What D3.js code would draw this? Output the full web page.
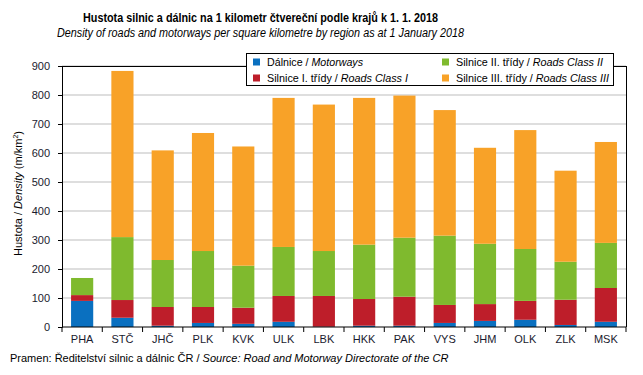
<!DOCTYPE html>
<html>
<head>
<meta charset="utf-8">
<script src="https://cdn.jsdelivr.net/npm/d3@7"></script>
<style>
  body { margin: 0; background: #fff; }
  svg { display: block; font-family: "Liberation Sans", Arial, sans-serif; }
</style>
</head>
<body>
<svg id="chart" width="643" height="375"></svg>
<script>
// Hustota silnic a dálnic podle krajů k 1. 1. 2018
const regions = ["PHA", "STČ", "JHČ", "PLK", "KVK", "ULK", "LBK", "HKK", "PAK", "VYS", "JHM", "OLK", "ZLK", "MSK"];

const motorways   = [90, 32, 4.5, 14, 11, 18, 1, 4.5, 4.5, 14, 21, 25, 7, 18];
const roadsClass1 = [20, 61, 64.5, 55, 55.5, 89, 106, 92, 100, 62, 58, 65, 87, 116.5];
const roadsClass2 = [59, 217, 162, 193, 145, 169, 155, 187.5, 203.5, 239, 208, 179, 131, 155.5];
const roadsClass3 = [0, 573, 378, 407, 411, 514, 505, 506, 490, 433, 331, 410, 314, 348];

const yTicks = [0, 100, 200, 300, 400, 500, 600, 700, 800, 900];

const series = [
  { key: "m",  cz: "Dálnice", en: "Motorways",        values: motorways,   color: "#0a70c0" },
  { key: "c1", cz: "Silnice I. třídy", en: "Roads Class I",   values: roadsClass1, color: "#be1e2a" },
  { key: "c2", cz: "Silnice II. třídy", en: "Roads Class II",  values: roadsClass2, color: "#7fba2e" },
  { key: "c3", cz: "Silnice III.  třídy", en: "Roads Class III", values: roadsClass3, color: "#f8a228" }
];

const width = 643, height = 375;
const margin = { top: 66, right: 17, bottom: 48, left: 62 };
const innerWidth  = width  - margin.left - margin.right;
const innerHeight = height - margin.top  - margin.bottom;

const svg = d3.select("#chart");

const g = svg.append("g")
  .attr("transform", `translate(${margin.left},${margin.top})`);

const x = d3.scaleBand()
  .domain(regions)
  .range([0, innerWidth])
  .paddingInner(0.45)
  .paddingOuter(0.225);

const y = d3.scaleLinear()
  .domain([0, 900])
  .range([innerHeight, 0]);

// mřížka
g.append("g")
  .selectAll("line")
  .data(yTicks.slice(1))
  .join("line")
  .attr("x1", 0).attr("x2", innerWidth)
  .attr("y1", d => y(d)).attr("y2", d => y(d))
  .attr("stroke", "#bdbdbd")
  .attr("stroke-width", 1);

// stack
const table = regions.map((r, i) => {
  const row = { region: r };
  series.forEach(s => row[s.key] = s.values[i]);
  return row;
});
const stacked = d3.stack().keys(series.map(s => s.key))(table);

g.append("g")
  .selectAll("g")
  .data(stacked)
  .join("g")
  .attr("fill", (d, i) => series[i].color)
  .selectAll("rect")
  .data(d => d)
  .join("rect")
  .attr("x", d => x(d.data.region))
  .attr("width", x.bandwidth())
  .attr("y", d => y(d[1]))
  .attr("height", d => y(d[0]) - y(d[1]));

// rámeček
g.append("path")
  .attr("d", `M0,${innerHeight}V0H${innerWidth}V${innerHeight}`)
  .attr("fill", "none")
  .attr("stroke", "#000")
  .attr("stroke-width", 1)
  .attr("shape-rendering", "crispEdges");

// osy
const yAxis = g.append("g")
  .call(d3.axisLeft(y).tickValues(yTicks).tickSize(4).tickPadding(8));
yAxis.select(".domain").attr("stroke", "#000");
yAxis.selectAll("text").attr("font-size", 11).attr("fill", "#1a1a2e")
  .attr("font-family", "Liberation Sans, Arial, sans-serif");

const step = x.step();
const x0 = x(regions[0]) - step * x.paddingInner() / 2;
const xAxis = g.append("g")
  .attr("transform", `translate(0,${innerHeight})`);
xAxis.append("line")
  .attr("x1", 0).attr("x2", innerWidth)
  .attr("stroke", "#000");
xAxis.selectAll(".tk")
  .data(d3.range(regions.length + 1))
  .join("line")
  .attr("class", "tk")
  .attr("x1", i => x0 + i * step)
  .attr("x2", i => x0 + i * step)
  .attr("y1", 0).attr("y2", 5)
  .attr("stroke", "#000");
xAxis.selectAll(".lbl")
  .data(regions)
  .join("text")
  .attr("class", "lbl")
  .attr("x", d => x(d) + x.bandwidth() / 2)
  .attr("y", 16)
  .attr("text-anchor", "middle")
  .attr("font-size", 11)
  .attr("fill", "#1a1a2e")
  .text(d => d);

// popisek osy y
const yl = svg.append("text")
  .attr("transform", `translate(22,${margin.top + innerHeight / 2 - 3}) rotate(-90)`)
  .attr("text-anchor", "middle")
  .attr("font-size", 11)
  .attr("fill", "#000");
yl.append("tspan").text("Hustota / ");
yl.append("tspan").attr("font-style", "italic").text("Density");
yl.append("tspan").text(" (m/km");
yl.append("tspan").attr("font-size", 7).attr("dy", -4).text("2");
yl.append("tspan").attr("dy", 4).text(")");

// titulky
svg.append("text")
  .attr("x", 83).attr("y", 22)
  .attr("font-size", 13).attr("font-weight", "bold")
  .attr("textLength", 355).attr("lengthAdjust", "spacingAndGlyphs")
  .text("Hustota  silnic  a  dálnic na 1 kilometr čtvereční  podle krajů  k 1. 1. 2018");
svg.append("text")
  .attr("x", 57).attr("y", 37)
  .attr("font-size", 12).attr("font-style", "italic")
  .attr("textLength", 407).attr("lengthAdjust", "spacingAndGlyphs")
  .text("Density  of roads  and motorways  per square  kilometre by region  as at 1 January  2018");

// legenda
const lg = svg.append("g").attr("transform", "translate(246,53)");
lg.append("rect")
  .attr("width", 367).attr("height", 32)
  .attr("fill", "#fff").attr("stroke", "#000")
  .attr("shape-rendering", "crispEdges");
const legPos = [[7, 9], [7, 25], [196, 9], [196, 25]];
const legWidth = [96, 141, 147, 153];
series.forEach((s, k) => {
  const [lx, ly] = legPos[k];
  const item = lg.append("g").attr("transform", `translate(${lx},${ly})`);
  item.append("rect")
    .attr("x", 0).attr("y", -3.5).attr("width", 7).attr("height", 7)
    .attr("fill", s.color);
  const t = item.append("text")
    .attr("x", 14).attr("y", 4)
    .attr("font-size", 11)
    .attr("textLength", legWidth[k]).attr("lengthAdjust", "spacingAndGlyphs");
  t.append("tspan").text(s.cz + " / ");
  t.append("tspan").attr("font-style", "italic").text(s.en);
});

// zdroj
const src = svg.append("text")
  .attr("x", 10).attr("y", 362)
  .attr("font-size", 11);
src.append("tspan").text("Pramen:  Ředitelství silnic a dálnic ČR  / ");
src.append("tspan").attr("font-style", "italic").text("Source: Road and Motorway Directorate of the CR");
</script>
</body>
</html>
